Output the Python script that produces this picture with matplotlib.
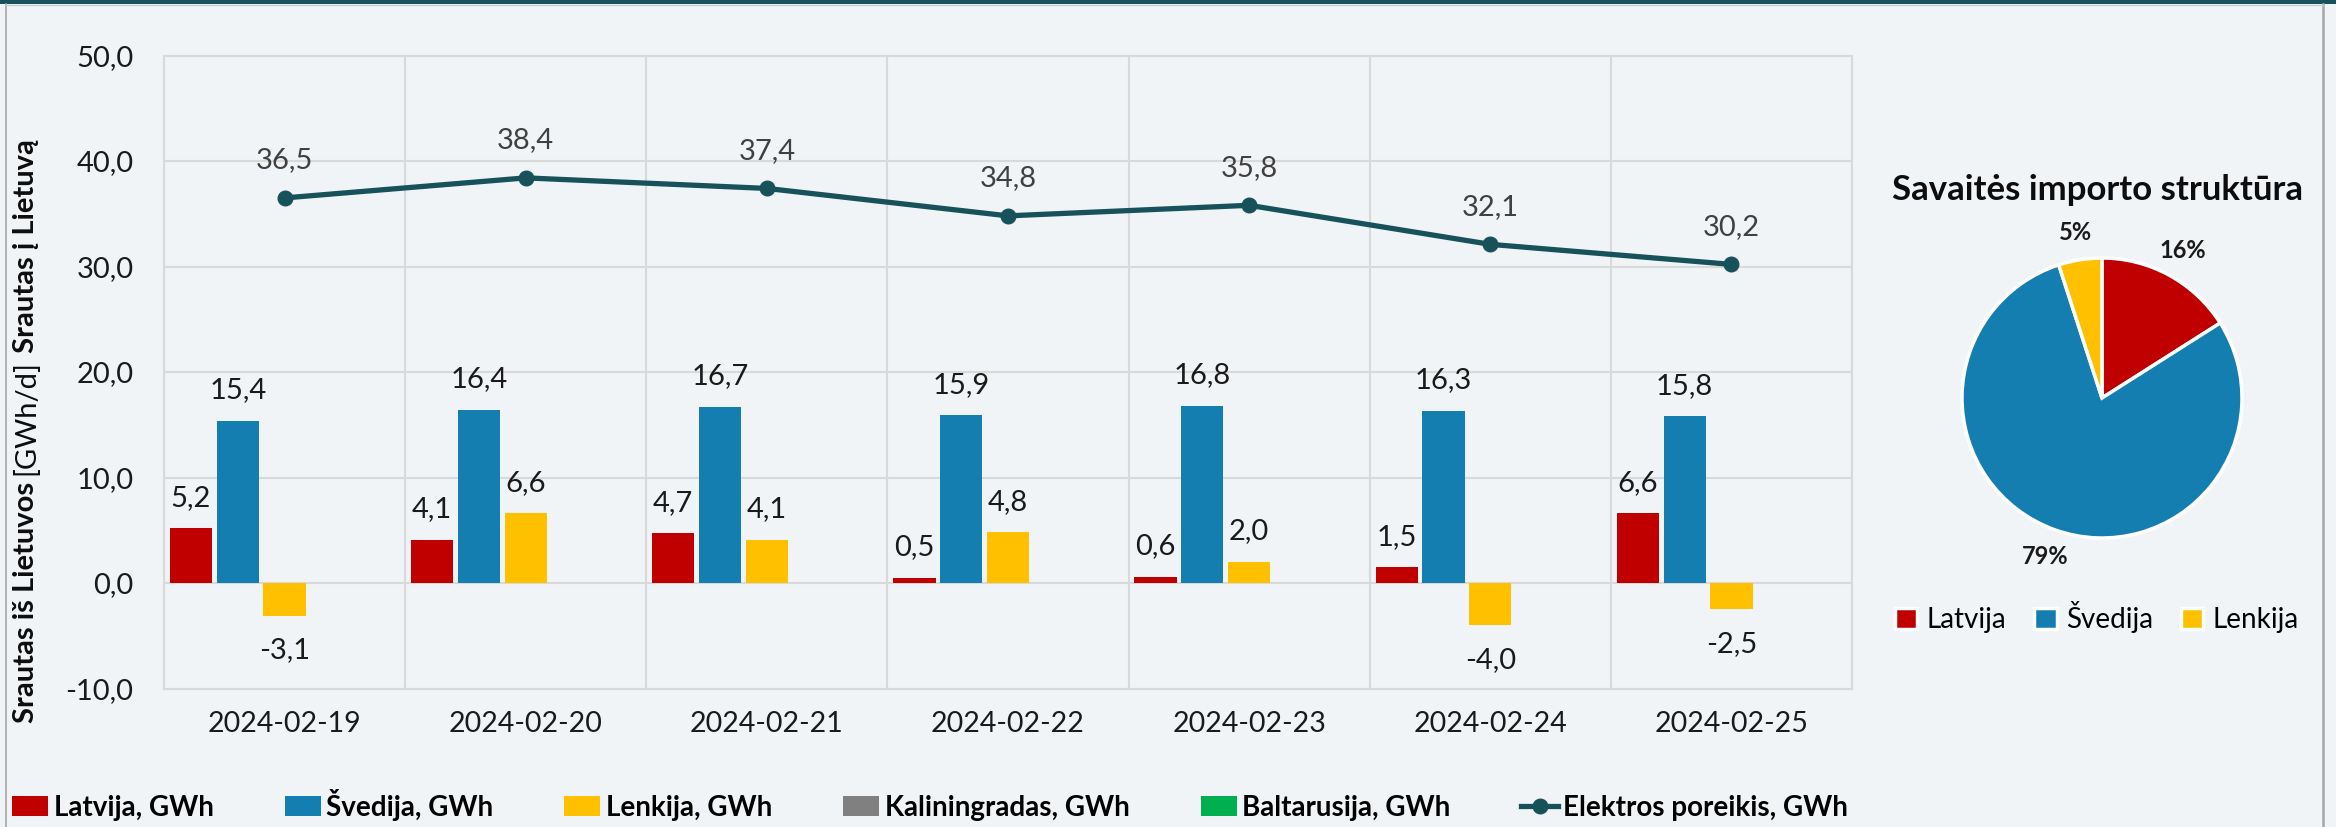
import matplotlib
matplotlib.use("Agg")
import matplotlib.pyplot as plt
import numpy as np
from matplotlib.patches import Rectangle
from matplotlib.lines import Line2D

# data
dates = ["2024-02-19", "2024-02-20", "2024-02-21", "2024-02-22",
         "2024-02-23", "2024-02-24", "2024-02-25"]
latvija = [5.2, 4.1, 4.7, 0.5, 0.6, 1.5, 6.6]
svedija = [15.4, 16.4, 16.7, 15.9, 16.8, 16.3, 15.8]
lenkija = [-3.1, 6.6, 4.1, 4.8, 2.0, -4.0, -2.5]
kaliningradas = [0, 0, 0, 0, 0, 0, 0]
baltarusija = [0, 0, 0, 0, 0, 0, 0]
poreikis = [36.5, 38.4, 37.4, 34.8, 35.8, 32.1, 30.2]

pie_labels = ["Latvija", "Švedija", "Lenkija"]
pie_shares = [16, 79, 5]

RED = "#C00000"
BLUE = "#157EB0"
YELLOW = "#FFC000"
GREY = "#808080"
GREEN = "#00B050"
TEAL = "#17525A"
BG = "#F0F4F7"
GRID = "#D9D9D9"

FONT = "Lato"
W, H = 2336, 827

fig = plt.figure(figsize=(W / 100, H / 100), dpi=100, facecolor=BG)

# frame decorations
fig.add_artist(Rectangle((0, 1 - 4 / H), 1, 4 / H, transform=fig.transFigure,
                         color=TEAL, lw=0))
fig.add_artist(Line2D([6 / W, 6 / W], [0, 1 - 4 / H], transform=fig.transFigure,
                      color="#A6A6A6", lw=1.2))
fig.add_artist(Line2D([2323 / W, 2323 / W], [0, 1 - 4 / H], transform=fig.transFigure,
                      color="#A6A6A6", lw=1.8))
fig.add_artist(Line2D([6 / W, 2323 / W], [1 - 5 / H, 1 - 5 / H], transform=fig.transFigure,
                      color="#C8CCCF", lw=1))

# ---- main chart ----
ax = fig.add_axes([164 / W, 1 - 688.5 / H, (1852 - 164) / W, (688.5 - 55.5) / H])
ax.set_facecolor(BG)

x = np.arange(len(dates))
series = [
    (latvija, RED, "Latvija, GWh"),
    (svedija, BLUE, "Švedija, GWh"),
    (lenkija, YELLOW, "Lenkija, GWh"),
    (kaliningradas, GREY, "Kaliningradas, GWh"),
    (baltarusija, GREEN, "Baltarusija, GWh"),
]
step = 0.194
width = 0.175
handles = []
for k, (vals, col, lab) in enumerate(series):
    pos = x + (k - 2) * step
    bars = ax.bar(pos, vals, width, color=col, label=lab, zorder=3, linewidth=0)
    handles.append(bars)
    if k < 3:
        for px, v in zip(pos, vals):
            off = 22 if v >= 0 else -25
            ax.annotate(f"{v:.1f}".replace(".", ","), (px, v), xytext=(0, off),
                        textcoords="offset points", ha="center", va="center",
                        fontsize=21, family=FONT, color="#1a1a1a", zorder=5)

ln, = ax.plot(x, poreikis, color=TEAL, lw=3.8, marker="o", markersize=10.5,
              zorder=4, label="Elektros poreikis, GWh")
handles.append(ln)
for px, v in zip(x, poreikis):
    ax.annotate(f"{v:.1f}".replace(".", ","), (px, v), xytext=(0, 27),
                textcoords="offset points", ha="center", va="center",
                fontsize=21, family=FONT, color="#404040", zorder=5)

ax.set_xlim(-0.5, len(dates) - 0.5)
ax.set_ylim(-10, 50)
ax.set_yticks(np.arange(-10, 51, 10))
ax.set_yticklabels([f"{t:.1f}".replace(".", ",") for t in np.arange(-10, 51, 10)])
ax.set_xticks(x)
ax.set_xticklabels(dates)
ax.set_xticks(np.arange(-0.5, len(dates), 1), minor=True)
ax.grid(True, which="minor", axis="x", color=GRID, lw=1.5, zorder=0)
ax.grid(True, which="major", axis="y", color=GRID, lw=1.5, zorder=0)
ax.tick_params(axis="both", which="both", length=0)
ax.tick_params(axis="y", pad=22, labelsize=21, labelcolor="#1a1a1a")
ax.tick_params(axis="x", pad=16, labelsize=20.5, labelcolor="#1a1a1a")
for t in ax.get_xticklabels() + ax.get_yticklabels():
    t.set_family(FONT)
for s in ax.spines.values():
    s.set_color(GRID)
    s.set_linewidth(1.5)

# y label in three pieces (bold / regular / bold)
fig.canvas.draw()
renderer = fig.canvas.get_renderer()
ybase = 1 - 723 / H
parts = [("Srautas iš Lietuvos ", "bold"), ("[GWh/d]", "normal"), (" Srautas į Lietuvą", "bold")]
for txt, wt in parts:
    t = fig.text(26 / W, ybase, txt, rotation=90, ha="center", va="bottom",
                 fontsize=21, fontweight=wt, family=FONT, color="#0d0d0d")
    bb = t.get_window_extent(renderer=renderer)
    ybase = bb.y1 / fig.bbox.height

# bottom legend
leg = fig.legend(handles=handles, labels=[h.get_label() for h in handles],
                 loc="center", bbox_to_anchor=(12 / W, 0.0, 1836 / W, 44 / H),
                 mode="expand", ncol=6, frameon=False, borderaxespad=0, borderpad=0,
                 handlelength=1.3, handleheight=0.75, handletextpad=0.2,
                 prop={"family": FONT, "weight": "bold", "size": 20})

# ---- pie ----
r = 140
pax = fig.add_axes([(2102 - 1.25 * r) / W, 1 - (398 + 1.25 * r) / H,
                    2.5 * r / W, 2.5 * r / H])
wedges, texts, autotexts = pax.pie(
    pie_shares, colors=[RED, BLUE, YELLOW], startangle=90, counterclock=False,
    autopct="%1.0f%%", pctdistance=1.2,
    wedgeprops={"edgecolor": "white", "linewidth": 2.5})
for a in autotexts:
    a.set_family(FONT)
    a.set_fontweight("bold")
    a.set_fontsize(17)
    a.set_color("#1a1a1a")
pax.set_xlim(-1.25, 1.25)
pax.set_ylim(-1.25, 1.25)
pax.set_aspect("equal")

fig.text(2097 / W, 1 - 190 / H, "Savaitės importo struktūra", ha="center", va="center",
         fontsize=25, fontweight="bold", family=FONT, color="#0d0d0d")

fig.legend(handles=wedges, labels=pie_labels, loc="center",
           bbox_to_anchor=(2097 / W, 1 - 617 / H), ncol=3, frameon=False,
           handlelength=0.8, handleheight=0.8, handletextpad=0.35, columnspacing=1.0,
           prop={"family": FONT, "size": 20})

fig.savefig("out.png", dpi=100, facecolor=BG)
